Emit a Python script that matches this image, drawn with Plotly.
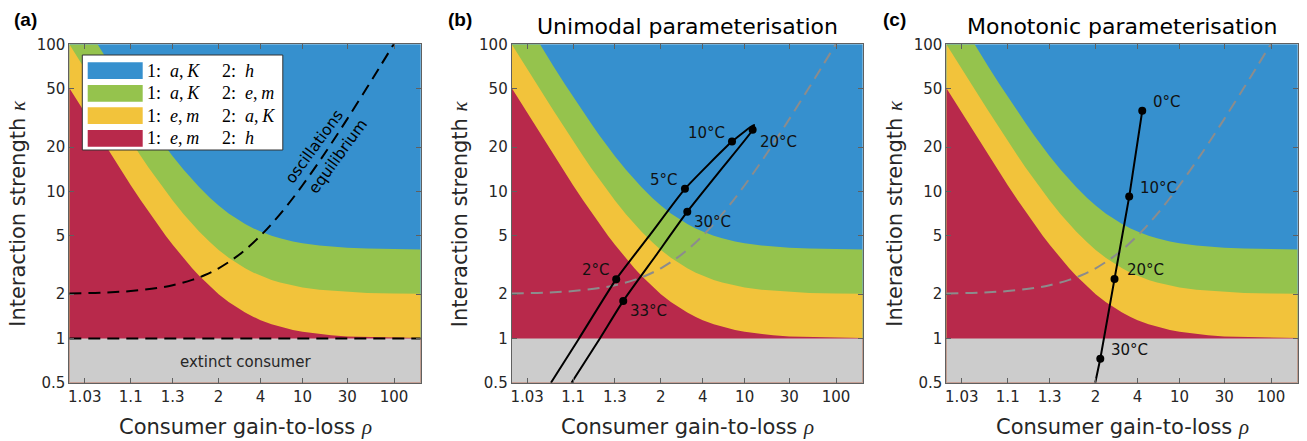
import math
import plotly.graph_objects as go

W, H = 1307, 441

# Region colours
BLUE = '#3690CE'
GREEN = '#95C34D'
YELLOW = '#F2C33B'
RED = '#B8294B'
GREY = '#CCCCCC'
INK = '#262626'
FRAME = '#606060'

# Axis ticks (x axis is plotted as rho - 1 on a log scale)
x_tick_rho = [1.03, 1.1, 1.3, 2, 4, 10, 30, 100]
x_tick_text = ['1.03', '1.1', '1.3', '2', '4', '10', '30', '100']
y_tick_vals = [0.5, 1, 2, 5, 10, 20, 50, 100]
y_tick_text = ['0.5', '1', '2', '5', '10', '20', '50', '100']
rho_min, rho_max = 1.02, 200.0
kappa_min, kappa_max = 0.5, 100.0

# Upper edge of the red and yellow regions
rho_band = [1.02, 1.03, 1.04, 1.05, 1.06, 1.08, 1.1, 1.13, 1.16, 1.2, 1.25, 1.3,
            1.4, 1.5, 1.6, 1.8, 2.0, 2.3, 2.6, 3.0, 3.5, 4.0, 5.0, 6.0, 8.0, 10,
            15, 20, 30, 50, 100, 200]
kappa_top_red = [50.5, 34.3, 26.0, 21.0, 17.7, 13.5, 11.0, 8.69, 7.25, 6.0, 5.0, 4.33,
                 3.5, 3.0, 2.67, 2.25, 2.0, 1.77, 1.63, 1.5, 1.4, 1.33, 1.25, 1.2, 1.14, 1.11,
                 1.07, 1.05, 1.03, 1.02, 1.01, 1.005]
kappa_top_yellow = [100, 68.7, 52.0, 42.0, 35.3, 27.0, 22.0, 17.4, 14.5, 12.0, 10.0, 8.67,
                    7.0, 6.0, 5.33, 4.5, 4.0, 3.54, 3.25, 3.0, 2.8, 2.67, 2.5, 2.4, 2.29, 2.22,
                    2.14, 2.11, 2.07, 2.04, 2.02, 2.01]
# Upper edge of the green region
rho_green = [1.042, 1.05, 1.06, 1.08, 1.1, 1.13, 1.16, 1.2, 1.25, 1.3, 1.4, 1.5, 1.6,
             1.8, 2.0, 2.3, 2.6, 3.0, 3.5, 4.0, 5.0, 6.0, 8.0, 10, 15, 20, 30, 50, 100, 200]
kappa_top_green = [100, 84.0, 70.7, 54.0, 44.0, 34.8, 29.0, 24.0, 20.0, 17.3, 14.0, 12.0, 10.7,
                   9.0, 8.0, 7.08, 6.5, 6.0, 5.6, 5.33, 5.0, 4.8, 4.57, 4.44, 4.29, 4.21, 4.14,
                   4.08, 4.04, 4.02]

# Hopf boundary (oscillations / equilibrium)
rho_hopf = [1.02, 1.05, 1.1, 1.2, 1.3, 1.5, 1.7, 2, 2.5, 3, 4, 5, 7, 10, 15, 20, 30, 50, 70, 100]
kappa_hopf = [2.02, 2.05, 2.1, 2.2, 2.3, 2.5, 2.7, 3, 3.5, 4, 5, 6, 8, 11, 16, 21, 31, 51, 71, 101]

# Unimodal temperature trajectory
rho_unimodal = [1.056, 1.117, 1.31, 1.766, 2.88, 7.46, 12.5, 12.1, 5.71, 3.0, 1.865, 1.373, 1.202, 1.096]
kappa_unimodal = [0.5, 1.0, 2.53, 5.14, 10.4, 21.8, 28.3, 26.2, 13.8, 7.28, 3.62, 1.80, 1.0, 0.5]
temp_unimodal = ['2°C', '5°C', '10°C', '20°C', '30°C', '33°C']
rho_unimodal_pts = [1.31, 2.88, 7.46, 12.1, 3.0, 1.373]
kappa_unimodal_pts = [2.53, 10.4, 21.8, 26.2, 7.28, 1.80]

# Monotonic temperature trajectory
rho_monotonic = [4.39, 3.41, 2.64, 2.13, 1.99]
kappa_monotonic = [35.3, 9.21, 2.54, 0.727, 0.5]
temp_monotonic = ['0°C', '10°C', '20°C', '30°C']
rho_monotonic_pts = [4.39, 3.41, 2.64, 2.13]
kappa_monotonic_pts = [35.3, 9.21, 2.54, 0.727]

# Legend entries
legend_colors = [BLUE, GREEN, YELLOW, RED]
legend_first = ['<i>a</i>,\u2009<i>K</i>', '<i>a</i>,\u2009<i>K</i>', '<i>e</i>,\u2009<i>m</i>', '<i>e</i>,\u2009<i>m</i>']
legend_second = ['<i>h</i>', '<i>e</i>,\u2009<i>m</i>', '<i>a</i>,\u2009<i>K</i>', '<i>h</i>']

# Panel placement in pixels
panels_px = [(69.3, 420.7), (511.7, 862.7), (946.3, 1297.7)]
plot_top, plot_bottom = 44.3, 382.7


def px(x):
    return x / W


def py(y):
    return 1 - y / H


def shift(values):
    return [v - 1 for v in values]


fig = go.Figure()

for i in range(3):
    xa = 'x' if i == 0 else f'x{i + 1}'
    ya = 'y' if i == 0 else f'y{i + 1}'
    lo, hi = rho_min - 1, rho_max - 1

    def region(rho, kappa, color, close_top=None):
        xs = shift(rho) + [hi, lo]
        ys = list(kappa) + [kappa_min, kappa_min]
        if close_top is not None:
            xs.append(lo)
            ys.append(close_top)
        fig.add_trace(go.Scatter(x=xs, y=ys, fill='toself', fillcolor=color, mode='lines',
                                 line=dict(width=0, color=color), hoverinfo='skip',
                                 showlegend=False, xaxis=xa, yaxis=ya))

    region(rho_green, kappa_top_green, GREEN, close_top=kappa_max)
    region(rho_band, kappa_top_yellow, YELLOW)
    region(rho_band, kappa_top_red, RED)
    fig.add_trace(go.Scatter(x=[lo, hi, hi, lo], y=[kappa_min, kappa_min, 1, 1], fill='toself',
                             fillcolor=GREY, mode='lines', line=dict(width=0, color=GREY),
                             hoverinfo='skip', showlegend=False, xaxis=xa, yaxis=ya))

    hopf_color = 'black' if i == 0 else '#8C8C8C'
    fig.add_trace(go.Scatter(x=shift(rho_hopf), y=kappa_hopf, mode='lines',
                             line=dict(color=hopf_color, width=2, dash='12px,7px', shape='spline'),
                             hoverinfo='skip', showlegend=False, xaxis=xa, yaxis=ya))
    if i == 0:
        fig.add_trace(go.Scatter(x=[lo, hi], y=[1, 1], mode='lines',
                                 line=dict(color='black', width=2, dash='12px,7px'),
                                 hoverinfo='skip', showlegend=False, xaxis=xa, yaxis=ya))

    x0, x1 = panels_px[i]
    axis_common = dict(showline=True, linecolor=FRAME, linewidth=1, mirror='ticks',
                       ticks='inside', ticklen=5, tickcolor=FRAME, showgrid=False,
                       zeroline=False, automargin=False, tickfont=dict(size=15, color=INK))
    fig.update_layout({
        ('xaxis' if i == 0 else f'xaxis{i + 1}'): dict(
            type='log', domain=[px(x0), px(x1)], anchor=ya,
            range=[math.log10(lo), math.log10(hi)],
            tickvals=shift(x_tick_rho), ticktext=x_tick_text, **axis_common),
        ('yaxis' if i == 0 else f'yaxis{i + 1}'): dict(
            type='log', domain=[py(plot_bottom), py(plot_top)], anchor=xa,
            range=[math.log10(kappa_min), math.log10(kappa_max)],
            tickvals=y_tick_vals, ticktext=y_tick_text, **axis_common),
    })

    # Axis titles
    fig.add_annotation(x=px((x0 + x1) / 2), y=py(427), xref='paper', yref='paper',
                       text='Consumer gain-to-loss <span style="font-family:Liberation Serif"><i>ρ</i></span>',
                       showarrow=False, font=dict(size=21, color=INK), xanchor='center', yanchor='middle')
    fig.add_annotation(x=px(x0 - 52), y=py((plot_top + plot_bottom) / 2), xref='paper', yref='paper',
                       text='Interaction strength <span style="font-family:Liberation Serif"><i>κ</i></span>',
                       showarrow=False, textangle=-90, font=dict(size=21, color=INK),
                       xanchor='center', yanchor='middle')

# Temperature trajectories
fig.add_trace(go.Scatter(x=shift(rho_unimodal), y=kappa_unimodal, mode='lines',
                         line=dict(color='black', width=2, shape='spline', smoothing=0.5),
                         hoverinfo='skip', showlegend=False, xaxis='x2', yaxis='y2'))
fig.add_trace(go.Scatter(x=shift(rho_unimodal_pts), y=kappa_unimodal_pts, mode='markers',
                         marker=dict(color='black', size=8), hoverinfo='skip',
                         showlegend=False, xaxis='x2', yaxis='y2'))
fig.add_trace(go.Scatter(x=shift(rho_monotonic), y=kappa_monotonic, mode='lines',
                         line=dict(color='black', width=2),
                         hoverinfo='skip', showlegend=False, xaxis='x3', yaxis='y3'))
fig.add_trace(go.Scatter(x=shift(rho_monotonic_pts), y=kappa_monotonic_pts, mode='markers',
                         marker=dict(color='black', size=8), hoverinfo='skip',
                         showlegend=False, xaxis='x3', yaxis='y3'))

uni_offsets = [('right', -4, 9), ('right', -5, 9), ('right', -5, 9),
               ('left', 5, -12), ('left', 5, -10), ('left', 5, -10)]
for label, r, k, (anchor, dx, dy) in zip(temp_unimodal, rho_unimodal_pts, kappa_unimodal_pts, uni_offsets):
    fig.add_annotation(x=math.log10(r - 1), y=math.log10(k), xref='x2', yref='y2', text=label,
                       showarrow=False, xanchor=anchor, yanchor='middle', xshift=dx, yshift=dy,
                       font=dict(size=15, color='#111111'))

mono_offsets = [(9, 9), (9, 9), (10, 9), (9, 9)]
for label, r, k, (dx, dy) in zip(temp_monotonic, rho_monotonic_pts, kappa_monotonic_pts, mono_offsets):
    fig.add_annotation(x=math.log10(r - 1), y=math.log10(k), xref='x3', yref='y3', text=label,
                       showarrow=False, xanchor='left', yanchor='middle', xshift=dx, yshift=dy,
                       font=dict(size=15, color='#111111'))

# Region notes in panel (a)
fig.add_annotation(x=px(245), y=py(361.7), xref='paper', yref='paper', text='extinct consumer',
                   showarrow=False, xanchor='center', yanchor='middle', font=dict(size=15, color=INK))
fig.add_annotation(x=px(314), y=py(146.7), xref='paper', yref='paper', text='oscillations',
                   showarrow=False, xanchor='center', yanchor='middle', textangle=-54,
                   font=dict(size=15.5, color='black'))
fig.add_annotation(x=px(338.3), y=py(156), xref='paper', yref='paper', text='equilibrium',
                   showarrow=False, xanchor='center', yanchor='middle', textangle=-54,
                   font=dict(size=15.5, color='black'))

# Panel letters and titles
for letter, xl in zip(['(a)', '(b)', '(c)'], [12, 445.5, 880.5]):
    fig.add_annotation(x=px(xl), y=py(19.5), xref='paper', yref='paper', text=f'<b>{letter}</b>',
                       showarrow=False, xanchor='left', yanchor='middle',
                       font=dict(size=19, color='black', family='Liberation Sans'))
for title, (x0, x1) in zip(['Unimodal parameterisation', 'Monotonic parameterisation'], panels_px[1:]):
    fig.add_annotation(x=px((x0 + x1) / 2), y=py(27), xref='paper', yref='paper', text=title,
                       showarrow=False, xanchor='center', yanchor='middle',
                       font=dict(size=22, color='black'))

# Legend box for the sensitivity regions
shapes = [dict(type='rect', xref='paper', yref='paper', x0=px(82.3), x1=px(282.8),
               y0=py(150), y1=py(55), fillcolor='white', line=dict(color='#333333', width=1))]
row_tops = [62.3, 85.0, 107.3, 130.0]
for color, top, first, second in zip(legend_colors, row_tops, legend_first, legend_second):
    shapes.append(dict(type='rect', xref='paper', yref='paper', x0=px(87.7), x1=px(142.7),
                       y0=py(top + 16.7), y1=py(top), fillcolor=color, line=dict(width=0)))
    mid = top + 8.3
    fig.add_annotation(x=px(144.5), y=py(mid), xref='paper', yref='paper', text=f'1:\u2002{first}',
                       showarrow=False, xanchor='left', yanchor='middle',
                       font=dict(size=18, color='black', family='Liberation Serif'))
    fig.add_annotation(x=px(219.5), y=py(mid), xref='paper', yref='paper', text=f'2:\u2002{second}',
                       showarrow=False, xanchor='left', yanchor='middle',
                       font=dict(size=18, color='black', family='Liberation Serif'))

fig.update_layout(width=W, height=H, autosize=False, margin=dict(l=0, r=0, t=0, b=0, autoexpand=False),
                  paper_bgcolor='white', plot_bgcolor=BLUE, shapes=shapes,
                  font=dict(family='DejaVu Sans', color=INK), showlegend=False)

fig.write_html('out.html', include_plotlyjs=True,
               config={'displayModeBar': False, 'responsive': False},
               post_script="document.body.style.margin='0';document.body.style.overflow='hidden';")
